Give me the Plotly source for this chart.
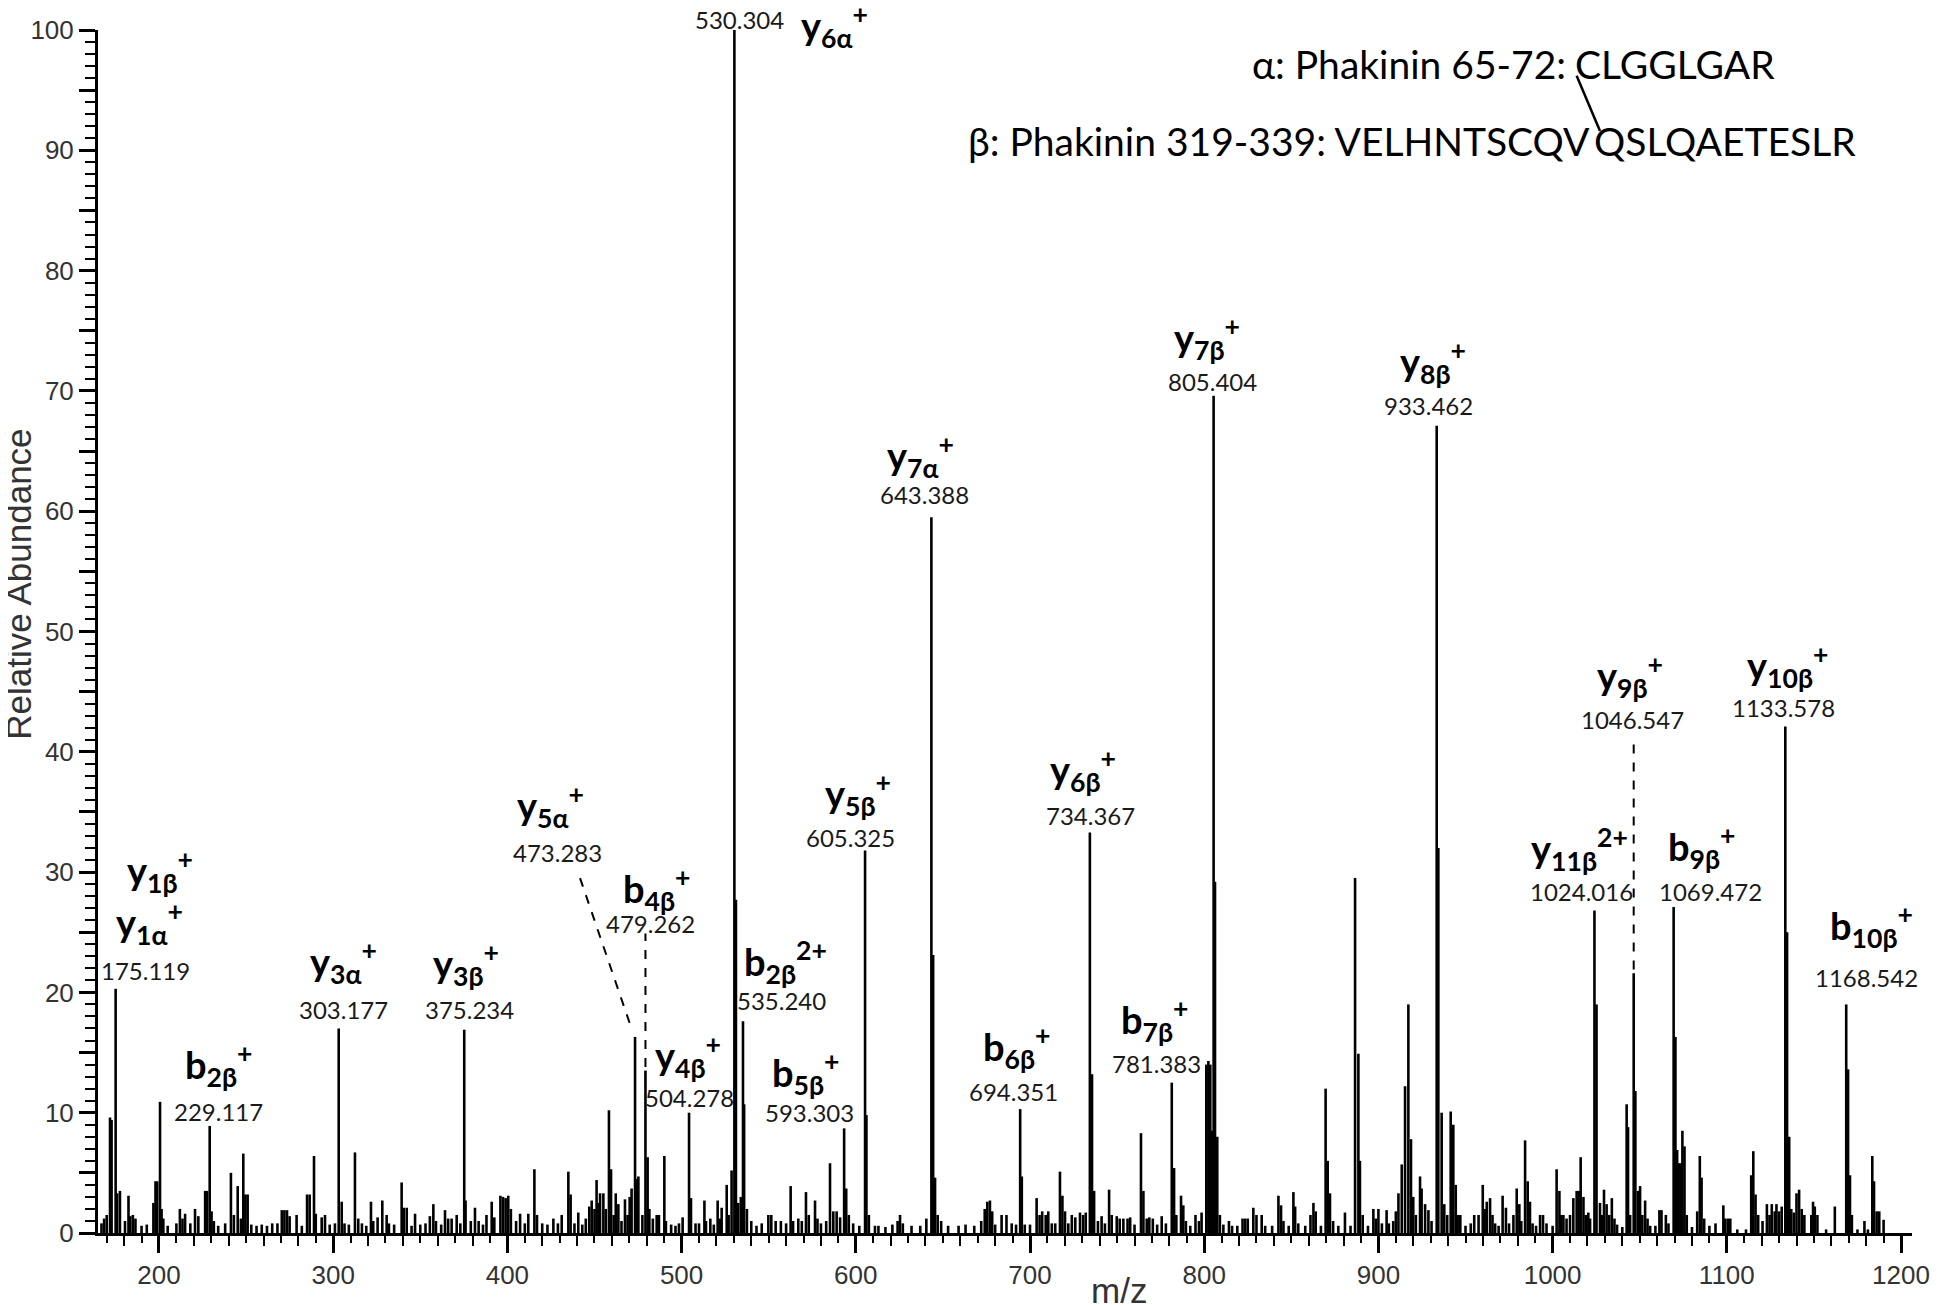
import plotly.graph_objects as go

# centroided MS/MS peaks: m/z and relative abundance (%)
mz = [
    167.0, 168.5, 170.0, 171.9, 172.8, 175.119, 176.0, 177.6, 180.5, 182.5, 183.5, 185.0, 186.5,
    190.0, 193.0, 196.8, 198.0, 199.0, 200.6, 201.5, 202.5, 205.0, 210.0, 212.0, 213.5, 215.0,
    218.0, 220.7, 222.6, 226.5, 227.6, 229.117, 230.2, 231.5, 234.0, 238.0, 241.3, 243.0, 245.2,
    247.0, 248.4, 249.6, 250.9, 253.0, 256.0, 259.0, 262.0, 265.0, 268.0, 270.5, 272.0, 273.5,
    275.0, 279.0, 282.0, 285.0, 286.5, 289.0, 290.0, 293.4, 295.3, 298.0, 301.0, 303.177, 304.9,
    306.5, 309.0, 312.5, 314.4, 316.5, 319.0, 321.7, 323.0, 325.5, 328.2, 330.7, 332.0, 335.0,
    339.3, 340.5, 342.2, 345.0, 347.0, 350.0, 353.0, 355.5, 357.5, 359.0, 362.0, 364.2, 366.0,
    368.0, 370.9, 373.0, 375.234, 376.0, 379.0, 381.4, 383.5, 386.0, 388.0, 391.0, 392.5, 396.0,
    397.5, 399.0, 400.5, 402.0, 405.0, 407.3, 410.0, 412.0, 415.5, 417.0, 420.0, 423.0, 426.4,
    429.0, 431.2, 435.0, 436.3, 438.5, 440.7, 443.0, 445.0, 447.0, 448.4, 450.0, 451.2, 452.3,
    453.2, 455.1, 456.5, 458.3, 459.5, 461.0, 462.2, 463.7, 465.5, 467.5, 469.0, 470.2, 471.3,
    473.283, 474.2, 475.2, 477.5, 479.262, 480.5, 481.5, 483.5, 485.7, 487.0, 490.1, 491.0,
    494.0, 496.5, 498.5, 500.6, 504.278, 505.4, 508.0, 510.0, 513.1, 514.0, 516.5, 518.5, 520.7,
    522.0, 523.0, 525.9, 527.0, 528.7, 530.304, 531.2, 532.5, 534.0, 535.24, 535.9, 537.5,
    540.0, 543.0, 546.0, 549.8, 551.5, 554.0, 557.0, 560.0, 562.6, 564.0, 567.0, 569.0, 571.4,
    573.0, 576.6, 578.0, 580.0, 583.0, 585.2, 587.1, 589.0, 591.0, 593.303, 594.5, 596.0,
    598.5, 602.0, 605.325, 606.1, 607.5, 611.0, 613.0, 617.0, 621.0, 624.0, 625.4, 627.0, 632.0,
    637.0, 640.5, 643.388, 644.4, 645.5, 647.0, 649.0, 653.0, 659.0, 663.0, 668.0, 672.0, 674.0,
    675.5, 677.0, 678.3, 680.0, 683.7, 686.5, 689.5, 692.0, 694.351, 695.3, 697.0, 700.0, 703.8,
    705.5, 707.0, 709.0, 710.5, 712.5, 714.5, 717.2, 718.6, 720.1, 722.0, 724.0, 726.0, 728.7,
    730.5, 732.0, 734.367, 735.6, 736.8, 739.0, 741.1, 743.0, 745.4, 746.9, 749.8, 751.5, 753.6,
    756.0, 757.5, 760.0, 763.7, 765.1, 767.0, 768.5, 770.5, 773.0, 775.6, 778.0, 781.383, 782.7,
    784.0, 786.7, 788.0, 789.5, 792.0, 795.0, 797.0, 798.5, 801.2, 802.4, 803.5, 804.5, 805.404,
    806.2, 807.5, 809.0, 811.0, 814.2, 816.0, 819.0, 822.0, 823.5, 825.0, 828.2, 830.0, 833.0,
    835.0, 839.0, 842.6, 844.1, 845.5, 848.5, 851.2, 852.2, 854.0, 858.0, 861.0, 862.7, 864.0,
    867.0, 869.7, 870.9, 872.2, 874.0, 877.0, 880.8, 884.0, 886.6, 888.5, 889.4, 891.0, 894.0,
    897.1, 898.5, 900.0, 902.0, 904.7, 906.0, 908.5, 910.0, 911.5, 913.4, 915.3, 917.2, 918.7,
    920.0, 921.5, 923.9, 924.8, 926.8, 928.7, 930.5, 933.462, 934.4, 936.3, 937.8, 939.5, 941.5,
    943.0, 944.4, 945.5, 947.0, 950.0, 953.0, 955.0, 957.5, 959.9, 961.0, 962.2, 964.1, 965.5,
    967.0, 969.0, 971.3, 973.2, 975.0, 977.5, 979.4, 980.9, 982.0, 984.2, 985.7, 987.0, 988.5,
    990.5, 992.8, 994.5, 996.5, 1000.0, 1002.3, 1003.9, 1005.0, 1006.2, 1008.0, 1010.0, 1011.9,
    1013.8, 1015.0, 1016.1, 1017.7, 1019.0, 1020.5, 1021.5, 1024.016, 1025.2, 1027.2, 1028.3,
    1029.5, 1031.0, 1032.5, 1034.0, 1035.5, 1037.0, 1040.0, 1042.5, 1043.3, 1044.5, 1046.547,
    1047.5, 1049.0, 1050.2, 1051.5, 1053.1, 1054.5, 1056.0, 1059.0, 1061.3, 1062.5, 1065.0,
    1066.5, 1069.472, 1070.5, 1071.5, 1072.5, 1073.5, 1074.5, 1075.7, 1077.0, 1080.0, 1083.0,
    1084.5, 1085.5, 1087.0, 1090.0, 1093.5, 1098.0, 1099.0, 1100.5, 1102.0, 1106.0, 1111.0,
    1114.0, 1115.2, 1116.5, 1118.0, 1120.5, 1123.0, 1124.5, 1125.8, 1127.5, 1128.5, 1130.0,
    1131.5, 1133.578, 1134.6, 1135.8, 1137.0, 1138.5, 1140.0, 1141.5, 1143.0, 1144.5, 1148.5,
    1149.5, 1150.5, 1152.0, 1157.0, 1162.0, 1168.542, 1169.6, 1170.7, 1171.8, 1175.0, 1179.0,
    1181.0, 1183.5, 1184.5, 1186.0, 1187.5, 1190.0,
]
intensity = [
    0.8, 1.2, 1.5, 9.6, 9.4, 20.3, 3.3, 3.5, 1.0, 3.1, 1.4, 1.5, 1.2,
    0.6, 0.7, 2.5, 4.3, 4.3, 10.9, 2.0, 1.2, 0.6, 0.8, 2.0, 1.2, 1.6,
    0.8, 2.0, 1.4, 3.5, 3.5, 8.9, 1.8, 1.0, 0.6, 0.8, 5.0, 1.5, 3.9,
    1.2, 6.6, 3.2, 3.2, 0.7, 0.6, 0.7, 0.6, 0.8, 0.8, 1.9, 1.9, 1.9,
    1.4, 1.5, 0.6, 3.2, 3.2, 6.4, 1.6, 1.3, 1.5, 0.7, 0.8, 17.0, 2.6,
    0.8, 0.7, 6.7, 1.2, 0.8, 0.6, 2.6, 1.0, 1.3, 2.7, 1.5, 0.8, 0.7,
    4.2, 2.1, 2.1, 0.6, 1.6, 0.7, 0.8, 1.4, 2.4, 1.0, 0.7, 1.9, 1.2,
    1.2, 1.5, 0.8, 16.9, 2.7, 1.0, 2.1, 1.0, 0.7, 1.5, 2.6, 1.3, 3.1,
    3.0, 2.9, 3.1, 2.0, 1.0, 1.6, 0.8, 1.6, 5.3, 1.5, 0.8, 0.7, 1.2,
    0.8, 1.5, 5.1, 3.2, 0.8, 1.7, 0.7, 1.2, 2.2, 2.7, 2.0, 4.4, 2.5,
    3.3, 3.3, 2.0, 10.2, 5.3, 1.5, 3.3, 2.4, 1.0, 2.8, 1.5, 3.0, 3.7,
    16.3, 4.5, 4.7, 1.5, 13.5, 6.3, 2.0, 1.2, 1.5, 1.5, 6.4, 1.0,
    0.7, 0.6, 0.8, 1.3, 10.0, 2.9, 0.8, 0.8, 2.7, 1.0, 1.2, 0.7, 2.7,
    1.2, 2.1, 4.0, 1.5, 5.2, 100.0, 27.7, 2.5, 3.0, 17.6, 10.7, 2.0,
    1.0, 0.6, 0.8, 1.5, 1.5, 1.0, 1.0, 0.8, 3.9, 1.0, 1.2, 1.0, 3.4,
    1.5, 2.7, 1.2, 0.8, 1.0, 5.8, 1.8, 1.8, 1.3, 8.7, 3.7, 1.5,
    0.8, 0.6, 31.8, 9.8, 1.5, 0.6, 0.6, 0.5, 0.7, 1.0, 1.5, 0.8, 0.6,
    0.6, 1.2, 59.5, 23.1, 4.6, 1.5, 1.0, 0.6, 0.6, 0.7, 0.6, 1.0, 2.0,
    2.6, 2.7, 1.8, 0.7, 1.5, 1.5, 0.8, 0.7, 10.3, 4.7, 0.7, 0.7, 2.9,
    1.5, 1.8, 1.5, 1.8, 0.8, 0.8, 5.1, 3.1, 1.8, 0.8, 1.5, 1.3, 1.7,
    1.5, 1.7, 33.3, 13.2, 3.5, 1.0, 1.4, 0.8, 3.6, 1.5, 1.4, 1.2, 1.2,
    1.2, 1.3, 0.7, 8.3, 3.5, 1.2, 1.3, 1.2, 0.7, 1.4, 0.8, 12.5, 5.4,
    1.5, 3.1, 2.3, 1.0, 0.6, 1.5, 1.0, 1.7, 14.0, 14.3, 14.0, 8.5, 69.6,
    29.2, 8.0, 1.5, 0.7, 1.0, 0.6, 0.6, 1.2, 1.2, 1.2, 2.1, 1.5, 1.5,
    0.6, 0.6, 3.1, 2.3, 1.0, 0.6, 3.4, 2.2, 0.8, 0.6, 1.5, 2.5, 1.8,
    0.6, 12.0, 6.0, 3.3, 1.0, 0.6, 1.7, 0.6, 29.5, 14.9, 6.0, 1.5, 0.6,
    2.0, 1.2, 2.0, 0.8, 1.9, 0.8, 1.0, 1.8, 3.3, 5.7, 12.2, 19.0, 7.8,
    3.0, 1.5, 4.7, 3.7, 2.4, 1.9, 1.0, 67.1, 32.0, 10.0, 2.4, 1.5, 10.1,
    9.0, 4.0, 1.5, 1.5, 0.6, 0.8, 1.5, 1.5, 4.0, 2.0, 2.6, 2.9, 1.5,
    0.8, 0.6, 3.1, 2.1, 0.8, 1.5, 3.7, 2.4, 1.0, 7.7, 4.3, 2.6, 0.8,
    0.6, 1.5, 1.5, 0.8, 0.6, 5.3, 3.5, 1.5, 1.5, 1.2, 1.5, 2.9,
    3.5, 3.5, 6.3, 3.0, 1.5, 1.7, 1.2, 26.8, 19.0, 2.5, 1.5,
    3.6, 2.4, 1.5, 2.9, 1.2, 0.7, 0.5, 10.7, 8.8, 1.5, 21.6,
    11.8, 3.5, 3.9, 1.5, 2.7, 1.2, 0.6, 0.6, 1.9, 1.9, 1.5,
    0.8, 27.1, 16.3, 6.9, 5.8, 5.8, 8.5, 7.2, 1.5, 0.5, 1.8,
    6.4, 4.6, 1.2, 0.6, 0.8, 2.3, 1.2, 1.2, 1.2, 0.3, 0.3,
    4.8, 6.8, 3.2, 1.5, 1.0, 2.4, 1.5, 2.4, 1.8, 2.4, 1.8,
    2.2, 42.1, 25.0, 8.0, 2.0, 1.7, 3.3, 3.6, 2.0, 1.5, 1.5,
    2.6, 2.2, 1.5, 0.3, 2.2, 19.0, 13.6, 4.8, 1.5, 0.3, 1.0,
    0.3, 6.4, 4.3, 1.8, 1.8, 1.1,
]

# annotated fragment ions
ion_mz = [175.119, 175.119, 229.117, 303.177, 375.234, 473.283, 479.262, 504.278, 530.304,
          535.240, 593.303, 605.325, 643.388, 694.351, 734.367, 781.383, 805.404, 933.462,
          1024.016, 1046.547, 1069.472, 1133.578, 1168.542]
ion_name = ["y<sub>1β</sub><sup>+</sup>", "y<sub>1α</sub><sup>+</sup>", "b<sub>2β</sub><sup>+</sup>",
            "y<sub>3α</sub><sup>+</sup>", "y<sub>3β</sub><sup>+</sup>", "y<sub>5α</sub><sup>+</sup>",
            "b<sub>4β</sub><sup>+</sup>", "y<sub>4β</sub><sup>+</sup>", "y<sub>6α</sub><sup>+</sup>",
            "b<sub>2β</sub><sup>2+</sup>", "b<sub>5β</sub><sup>+</sup>", "y<sub>5β</sub><sup>+</sup>",
            "y<sub>7α</sub><sup>+</sup>", "b<sub>6β</sub><sup>+</sup>", "y<sub>6β</sub><sup>+</sup>",
            "b<sub>7β</sub><sup>+</sup>", "y<sub>7β</sub><sup>+</sup>", "y<sub>8β</sub><sup>+</sup>",
            "y<sub>11β</sub><sup>2+</sup>", "y<sub>9β</sub><sup>+</sup>", "b<sub>9β</sub><sup>+</sup>",
            "y<sub>10β</sub><sup>+</sup>", "b<sub>10β</sub><sup>+</sup>"]

peptide_alpha = ["α: Phakinin 65-72:", "CLGGLGAR"]
peptide_beta = ["β: Phakinin 319-339: VELHNTSCQV", "QSLQAETESLR"]

# label placement (m/z, %) -- ion name and m/z value
name_pos = [(200.6, 30.1), (194.8, 25.8), (234.4, 14.0), (306.2, 22.5), (376.2, 22.4),
            (424.5, 35.5), (485.9, 28.6), (503.7, 14.7), (587.5, 100.3), (559.4, 22.5),
            (571.4, 13.3), (601.3, 36.5), (637.4, 64.6), (692.5, 15.5), (730.4, 38.5),
            (771.8, 17.7), (801.6, 74.4), (931.4, 72.4), (1015.7, 31.9), (1044.4, 46.3),
            (1085.8, 32.1), (1135.1, 47.1), (1182.8, 25.5)]
value_pos = [(192.5, 21.8), None, (234.4, 10.1), (306.2, 18.6), (378.5, 18.6),
             (428.5, 31.6), (482.4, 25.7), (504.3, 11.3), (533.0, 100.9), (557.6, 19.3),
             (573.7, 10.0), (597.2, 32.9), (639.2, 61.4), (690.8, 11.8), (735.0, 34.7),
             (772.9, 14.1), (804.5, 70.8), (928.5, 68.8), (1016.3, 28.4), (1045.6, 42.7),
             (1090.4, 28.4), (1132.3, 43.7), (1179.9, 21.2)]

fig = go.Figure()

xs, ys = [], []
for m, i in zip(mz, intensity):
    xs += [m, m, None]
    ys += [0, i, None]
fig.add_trace(go.Scatter(x=xs, y=ys, mode='lines', line=dict(color='black', width=2.6),
                         hoverinfo='skip', showlegend=False, cliponaxis=False))
# dummy trace so the overlay axis (medium x ticks) is drawn
fig.add_trace(go.Scatter(x=[None], y=[None], xaxis='x2', showlegend=False))

num_font = dict(family="Lato, 'Noto Sans', sans-serif", size=24, color='#1a1a1a')
ion_font = dict(family="Lato, 'Noto Sans', sans-serif", size=38, color='black')

# y range is [0, 100] so the paper fraction is intensity / 100 (labels may sit above the frame)
for name, npos, vpos, m in zip(ion_name, name_pos, value_pos, ion_mz):
    fig.add_annotation(x=npos[0], y=npos[1] / 100, yref='paper', text=f"<b>{name}</b>",
                       showarrow=False, font=ion_font, xanchor='center', yanchor='middle')
    if vpos is not None:
        fig.add_annotation(x=vpos[0], y=vpos[1] / 100, yref='paper', text=f"{m:.3f}",
                           showarrow=False, font=num_font, xanchor='center', yanchor='middle')

# dashed leaders
dash = dict(color='black', width=2, dash='dash')
fig.add_shape(type='line', x0=441.7, y0=29.5, x1=471.5, y1=16.9, line=dash)
fig.add_shape(type='line', x0=479.262, y0=13.8, x1=479.262, y1=24.9, line=dash)
fig.add_shape(type='line', x0=1046.547, y0=21.9, x1=1046.547, y1=41.1, line=dash)

# peptide sequences with the crosslink
seq_font = dict(family="Lato, sans-serif", size=39, color='black')
fig.add_annotation(x=1009.0, y=97.2, text=peptide_alpha[0], showarrow=False, font=seq_font,
                   xanchor='right', yanchor='middle')
fig.add_annotation(x=1011.7, y=97.2, text=peptide_alpha[1], showarrow=False, font=seq_font,
                   xanchor='left', yanchor='middle')
fig.add_annotation(x=1022.6, y=90.8, text=peptide_beta[0], showarrow=False, font=seq_font,
                   xanchor='right', yanchor='middle')
fig.add_annotation(x=1022.6, y=90.8, text=peptide_beta[1], showarrow=False, font=seq_font,
                   xanchor='left', yanchor='middle')
fig.add_shape(type='line', x0=1013.8, y0=96.2, x1=1027.2, y1=91.6,
              line=dict(color='black', width=2.5))

axis_font = dict(family="'Liberation Sans', Arial, sans-serif", size=35, color='#333333')
fig.add_annotation(xref='paper', yref='paper', x=-0.044, y=0.539, text="Relative Abundance",
                   textangle=-90, showarrow=False, font=axis_font, xanchor='center', yanchor='middle')
fig.add_annotation(xref='paper', yref='paper', x=0.563, y=-0.048, text="m/z",
                   showarrow=False, font=axis_font, xanchor='center', yanchor='middle')

y_ticks = list(range(0, 101, 5))
y_text = [str(v) if v % 10 == 0 else "" for v in y_ticks]

# page body adds an 8 px margin, so the figure is offset by 8 px
tick_font = dict(family="'Liberation Sans', Arial, sans-serif", size=26, color='#333333')
fig.update_layout(
    width=1942, height=1297,
    margin=dict(l=90, r=38, t=22, b=72, autoexpand=False),
    plot_bgcolor='white', paper_bgcolor='white',
    xaxis=dict(range=[165.0, 1206.3], tick0=0, dtick=100, ticks='outside', ticklen=17,
               tickwidth=2.5, tickcolor='black', showline=True, linewidth=3, linecolor='black',
               showgrid=False, zeroline=False, tickfont=tick_font, automargin=False,
               minor=dict(dtick=10, tick0=0, ticks='outside', ticklen=7, tickwidth=2,
                          tickcolor='black', showgrid=False)),
    xaxis2=dict(range=[165.0, 1206.3], overlaying='x', side='bottom', anchor='y',
                tick0=0, dtick=20, ticks='outside', ticklen=12, tickwidth=2, tickcolor='black',
                showticklabels=False, showline=False, showgrid=False, zeroline=False,
                automargin=False),
    yaxis=dict(range=[0, 100], tickvals=y_ticks, ticktext=y_text, ticks='outside', ticklen=16,
               tickwidth=2.5, tickcolor='black', showline=True, linewidth=3, linecolor='black',
               showgrid=False, zeroline=False, tickfont=tick_font, automargin=False,
               minor=dict(dtick=1, ticks='outside', ticklen=10, tickwidth=2,
                          tickcolor='black', showgrid=False)),
)

fig.write_html("out.html")
